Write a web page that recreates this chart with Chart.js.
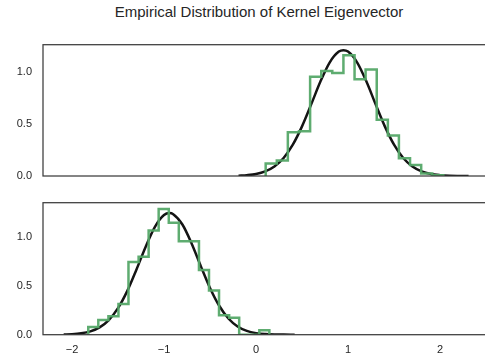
<!DOCTYPE html>
<html>
<head>
<meta charset="utf-8">
<script src="https://cdn.jsdelivr.net/npm/chart.js@4.4.1/dist/chart.umd.min.js"></script>
<style>
  html, body { margin: 0; padding: 0; background: #fff; }
  body { width: 485px; height: 360px; overflow: hidden; position: relative; }
  #title { position: absolute; left: 0; top: 3px; width: 518px; text-align: center;
           font: 15px "Liberation Sans", Arial, sans-serif; color: #262626; }
  canvas { position: absolute; left: 0; }
  #top { top: 40px; }
  #bottom { top: 195px; }
</style>
</head>
<body>
<div id="title">Empirical Distribution of Kernel Eigenvector</div>
<canvas id="top" width="490" height="150"></canvas>
<canvas id="bottom" width="490" height="165"></canvas>
<script>
// --- data ---
const xTicks = [-2, -1, 0, 1, 2];
const yTicks = [0, 0.5, 1.0];

// upper panel: histogram bin edges + heights
const topEdges = [0.105, 0.226, 0.346, 0.467, 0.588, 0.709, 0.829, 0.950, 1.071,
                  1.191, 1.312, 1.433, 1.553, 1.674, 1.795, 1.916, 2.036];
const topHeights = [0.12, 0.15, 0.42, 0.43, 0.955, 1.01, 0.99, 1.16, 0.93,
                    1.025, 0.54, 0.39, 0.17, 0.105, 0.025, 0.008];
// upper panel: fitted density curve
const topCurveX = [-0.19, -0.1, 0.0, 0.1, 0.2, 0.3, 0.4, 0.5, 0.6, 0.7, 0.8, 0.9, 0.95,
                   1.0, 1.1, 1.2, 1.3, 1.4, 1.5, 1.6, 1.7, 1.8, 1.9, 2.0, 2.1, 2.2, 2.31];
const topCurveY = [0.003, 0.008, 0.019, 0.044, 0.091, 0.173, 0.301, 0.477, 0.689, 0.908, 1.091, 1.196, 1.21,
                   1.196, 1.091, 0.908, 0.689, 0.477, 0.301, 0.173, 0.091, 0.044, 0.019, 0.008, 0.003, 0.001, 0.0];

// lower panel
const botEdges = [-1.823, -1.714, -1.604, -1.495, -1.386, -1.276, -1.167, -1.058, -0.948, -0.839,
                  -0.730, -0.620, -0.511, -0.402, -0.292, -0.183, -0.074, 0.036, 0.145];
const botHeights = [0.08, 0.15, 0.19, 0.315, 0.745, 0.80, 1.07, 1.29, 1.15, 0.96,
                    0.96, 0.665, 0.455, 0.20, 0.175, 0, 0, 0.045];
const botCurveX = [-2.09, -2.0, -1.9, -1.8, -1.7, -1.6, -1.5, -1.4, -1.3, -1.2, -1.1, -1.0, -0.94,
                   -0.9, -0.8, -0.7, -0.6, -0.5, -0.4, -0.3, -0.2, -0.1, 0.0, 0.1, 0.2, 0.3, 0.42];
const botCurveY = [0.002, 0.005, 0.014, 0.034, 0.075, 0.150, 0.272, 0.447, 0.667, 0.901, 1.105, 1.228, 1.248,
                   1.237, 1.131, 0.937, 0.704, 0.480, 0.297, 0.166, 0.084, 0.039, 0.016, 0.006, 0.002, 0.001, 0.0];

// --- helpers ---
const GREEN = 'rgba(85,168,104,0.95)';
const FONT = { family: '"Liberation Sans", Arial, sans-serif', size: 11 };

// 'before' in chart.js = go across first, then up/down -> each height holds from its left edge
function stepPoints(edges, heights) {
    const pts = [{ x: edges[0], y: 0 }];
    heights.forEach((h, i) => pts.push({ x: edges[i], y: h }));
    pts.push({ x: edges[edges.length - 1], y: 0 });
    return pts;
}

const frame = {
    id: 'frame',
    afterDatasetsDraw(chart) {
        const a = chart.chartArea, ctx = chart.ctx;
        ctx.save();
        ctx.strokeStyle = '#3c3c3c';
        ctx.lineWidth = 1.25;
        ctx.strokeRect(a.left, a.top, a.right - a.left, a.bottom - a.top);
        ctx.restore();
    }
};

function makeChart(id, edges, heights, cx, cy, yMax, padTop, padBottom, showX) {
    return new Chart(document.getElementById(id), {
        type: 'line',
        data: {
            datasets: [
                { data: stepPoints(edges, heights), stepped: 'before', borderColor: GREEN,
                  borderWidth: 2.5, pointRadius: 0, fill: false },
                { data: cx.map((x, i) => ({ x: x, y: cy[i] })), borderColor: '#141414',
                  borderWidth: 2.5, pointRadius: 0, cubicInterpolationMode: 'monotone', fill: false }
            ]
        },
        options: {
            responsive: false,
            animation: false,
            layout: { padding: { top: padTop, bottom: padBottom, left: 0, right: 0 } },
            plugins: { legend: { display: false }, tooltip: { enabled: false } },
            scales: {
                x: {
                    type: 'linear', min: -2.315, max: 2.543, display: showX,
                    grid: { display: false, drawTicks: false }, border: { display: false },
                    afterBuildTicks: s => { s.ticks = xTicks.map(v => ({ value: v })); },
                    afterFit: s => { s.height = showX ? 25.3 : 0; s.paddingLeft = 0; s.paddingRight = 0; },
                    ticks: { color: '#262626', font: FONT, padding: 9, maxRotation: 0,
                             callback: v => String(v).replace('-', '\u2212') }
                },
                y: {
                    min: 0, max: yMax,
                    grid: { display: false, drawTicks: false }, border: { display: false },
                    afterBuildTicks: s => { s.ticks = yTicks.map(v => ({ value: v })); },
                    afterFit: s => { s.width = 43; s.paddingTop = 0; s.paddingBottom = 0; },
                    ticks: { color: '#262626', font: FONT, padding: 11, callback: v => v.toFixed(1) }
                }
            }
        },
        plugins: [frame]
    });
}

makeChart('top', topEdges, topHeights, topCurveX, topCurveY, 1.2625, 4.7, 14, false);
makeChart('bottom', botEdges, botHeights, botCurveX, botCurveY, 1.355, 7.7, 0, true);
</script>
</body>
</html>
